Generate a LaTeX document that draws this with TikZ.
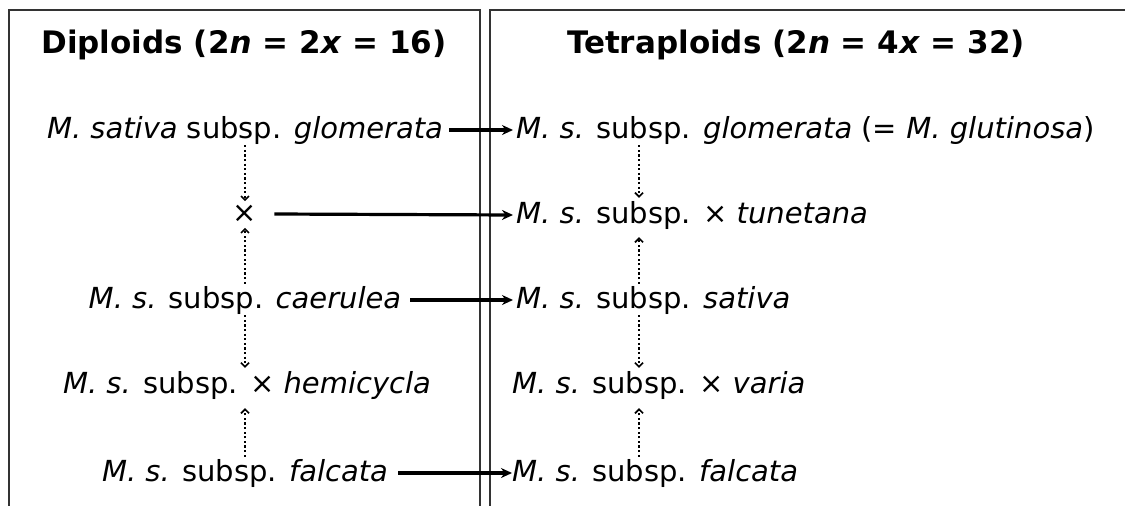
\documentclass[tikz,border=0pt]{standalone}
\usepackage{fontspec}
\setmainfont{DejaVu Sans}
\usetikzlibrary{arrows.meta}
\tikzset{
  txt/.style={inner sep=0pt, anchor=base, font=\fontsize{29}{35}\selectfont},
  rtxt/.style={inner sep=0pt, anchor=base west, font=\fontsize{29}{35}\selectfont},
  ttl/.style={inner sep=0pt, anchor=base, font=\fontsize{31}{37}\selectfont\bfseries},
  frame/.style={line width=2pt, draw=black!80},
  harrow/.style={line width=3.2pt, -{Stealth[length=11pt,width=10pt]}},
  darrow/.style={line width=2.2pt, dash pattern=on 2.2pt off 2.4pt, -{Straight Barb[length=4pt,width=8pt,line width=1.6pt]}},
}
\newcommand{\xx}{×}
\begin{document}
\begin{tikzpicture}[x=1pt,y=-1pt]
\useasboundingbox (0,0) rectangle (1125,506);
\draw[frame] (9,510) -- (9,10) -- (480,10) -- (480,510);
\draw[frame] (490,510) -- (490,10) -- (1130,10);
% titles
\node[ttl] (tl) at (244,53) {Diploids (2\textit{n} = 2\textit{x} = 16)};
\node[ttl] (tr) at (796,53) {Tetraploids (2\textit{n} = 4\textit{x} = 32)};
% left column
\node[txt] (l1) at (245,138) {\textit{M. sativa} subsp. \textit{glomerata}};
\node[inner sep=0pt, font=\fontsize{29}{35}\selectfont] (l2) at (245,214) {\xx};
\node[txt] (l3) at (245,308) {\textit{M. s.} subsp. \textit{caerulea}};
\node[txt] (l4) at (247,393) {\textit{M. s.} subsp. \xx{} \textit{hemicycla}};
\node[txt] (l5) at (245,481) {\textit{M. s.} subsp. \textit{falcata}};
% right column
\node[rtxt] (r1) at (516,138) {\textit{M. s.} subsp. \textit{glomerata} (= \textit{M. glutinosa})};
\node[rtxt] (r2) at (516,223) {\textit{M. s.} subsp. \xx{} \textit{tunetana}};
\node[rtxt] (r3) at (516,308) {\textit{M. s.} subsp. \textit{sativa}};
\node[rtxt] (r4) at (512,393) {\textit{M. s.} subsp. \xx{} \textit{varia}};
\node[rtxt] (r5) at (512,481) {\textit{M. s.} subsp. \textit{falcata}};
\coordinate (rc) at (639,0);
% horizontal arrows
\draw[harrow] ([xshift=6pt,yshift=8pt]l1.base east) -- ([xshift=-3pt,yshift=8pt]r1.base west);
\draw[harrow] ([xshift=17pt]l2.east) -- ([xshift=-3pt,yshift=8pt]r2.base west);
\draw[harrow] ([xshift=9pt,yshift=8pt]l3.base east) -- ([xshift=-3pt,yshift=8pt]r3.base west);
\draw[harrow] ([xshift=10pt,yshift=8pt]l5.base east) -- ([xshift=0pt,yshift=8pt]r5.base west);
% left dotted arrows
\draw[darrow] ([yshift=-1pt]l1.south) -- ([yshift=4pt]l2.north);
\draw[darrow] ([yshift=2pt]l3.north) -- ([yshift=-5pt]l2.south);
\draw[darrow] ([yshift=-1pt]l3.south -| l2) -- ([yshift=3pt]l4.north -| l2);
\draw[darrow] ([yshift=2pt]l5.north -| l2) -- ([yshift=-9pt]l4.south -| l2);
% right dotted arrows
\draw[darrow] ([yshift=-1pt]r1.south -| rc) -- ([yshift=3pt]r2.north -| rc);
\draw[darrow] ([yshift=2pt]r3.north -| rc) -- ([yshift=-8pt]r2.south -| rc);
\draw[darrow] ([yshift=-1pt]r3.south -| rc) -- ([yshift=3pt]r4.north -| rc);
\draw[darrow] ([yshift=2pt]r5.north -| rc) -- ([yshift=-9pt]r4.south -| rc);
\end{tikzpicture}
\end{document}
